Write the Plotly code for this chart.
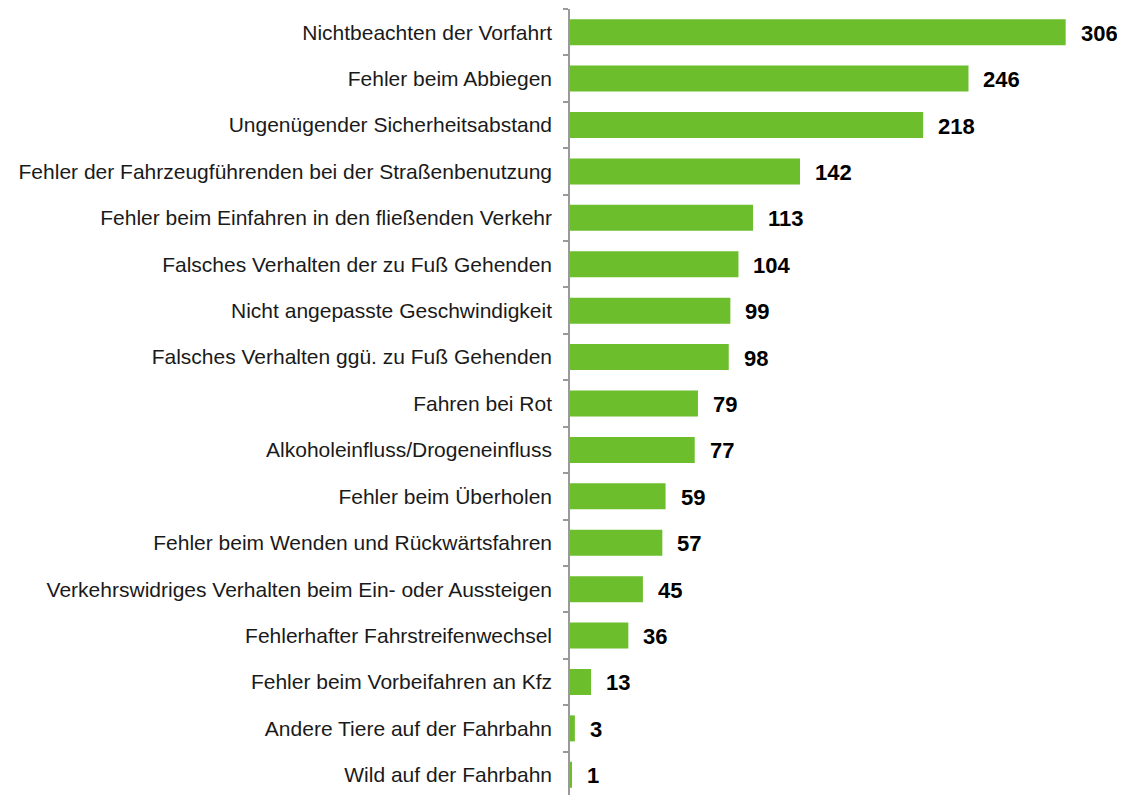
import plotly.graph_objects as go

categories = [
    "Nichtbeachten der Vorfahrt",
    "Fehler beim Abbiegen",
    "Ungenügender Sicherheitsabstand",
    "Fehler der Fahrzeugführenden bei der Straßenbenutzung",
    "Fehler beim Einfahren in den fließenden Verkehr",
    "Falsches Verhalten der zu Fuß Gehenden",
    "Nicht angepasste Geschwindigkeit",
    "Falsches Verhalten ggü. zu Fuß Gehenden",
    "Fahren bei Rot",
    "Alkoholeinfluss/Drogeneinfluss",
    "Fehler beim Überholen",
    "Fehler beim Wenden und Rückwärtsfahren",
    "Verkehrswidriges Verhalten beim Ein- oder Aussteigen",
    "Fehlerhafter Fahrstreifenwechsel",
    "Fehler beim Vorbeifahren an Kfz",
    "Andere Tiere auf der Fahrbahn",
    "Wild auf der Fahrbahn",
]
values = [306, 246, 218, 142, 113, 104, 99, 98, 79, 77, 59, 57, 45, 36, 13, 3, 1]

FONT = "Liberation Sans, Arial, sans-serif"

fig = go.Figure()
fig.add_trace(go.Bar(
    x=values, y=categories, orientation="h",
    marker=dict(color="#6CBE2C", line=dict(width=0)),
    width=0.56,
    hoverinfo="x+y",
))

for c, v in zip(categories, values):
    fig.add_annotation(
        x=v, y=c, text=f"<b>{v}</b>", showarrow=False,
        xanchor="left", xshift=13, yshift=-1,
        font=dict(family=FONT, size=22, color="#000000"),
    )

fig.update_layout(
    width=1125, height=795,
    margin=dict(l=562, r=9, t=1, b=5),
    plot_bgcolor="white", paper_bgcolor="white",
    showlegend=False,
    font=dict(family=FONT, size=21, color="#1a1a1a"),
)
fig.update_xaxes(range=[0, 342], visible=False, showgrid=False, zeroline=False)
fig.update_yaxes(
    autorange="reversed",
    showline=True, linecolor="#9A9A9A", linewidth=1.5,
    ticks="outside", tickson="boundaries", ticklen=5, tickcolor="#9A9A9A", tickwidth=1.5,
    ticklabelstandoff=12,
    showgrid=False, zeroline=False,
    tickfont=dict(family=FONT, size=21, color="#1a1a1a"),
)

fig.write_html("out.html")
